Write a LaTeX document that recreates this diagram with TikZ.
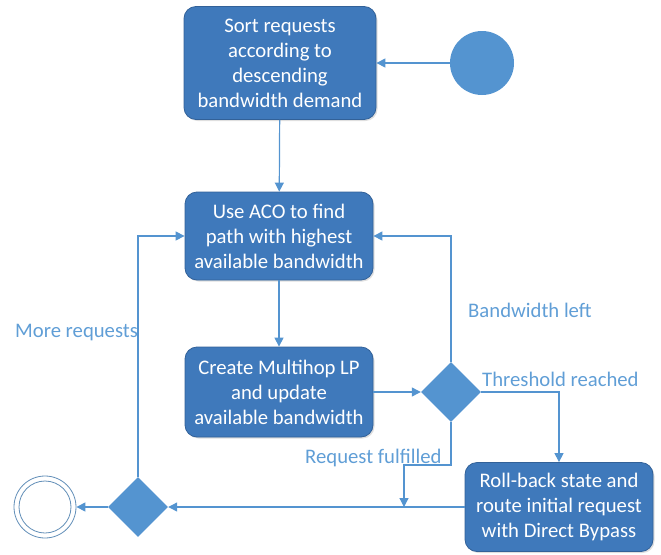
\documentclass[tikz,border=0pt]{standalone}
\usepackage{fontspec}
\setmainfont{Carlito}
\usetikzlibrary{arrows.meta,shapes.geometric,shadows}
\definecolor{boxblue}{RGB}{63,121,187}
\definecolor{boxedge}{RGB}{50,97,152}
\definecolor{lightblue}{RGB}{84,148,208}
\definecolor{labelblue}{RGB}{96,158,214}
\begin{document}
\begin{tikzpicture}[x=1pt,y=-1pt,
  every node/.style={font=\fontsize{20.7}{25}\selectfont},
  actbox/.style={draw=boxedge,line width=0.8pt,fill=boxblue,rounded corners=12pt,
    text=white,align=center,inner sep=0pt,
    drop shadow={shadow xshift=1.5pt,shadow yshift=-1.5pt,opacity=0.25}},
  decision/.style={diamond,fill=lightblue,draw=none,minimum width=60pt,minimum height=60pt,inner sep=0pt},
  flow/.style={draw=lightblue,line width=1.2pt,-{Triangle[length=9pt,width=9pt]}},
  guard/.style={text=labelblue,inner sep=0pt}
]
\useasboundingbox (0,0) rectangle (661,554);

% activity boxes
\node[actbox,minimum width=192pt,minimum height=113pt] (sort) at (280,63)
  {Sort requests\\according to\\descending\\bandwidth demand};
\node[actbox,minimum width=188pt,minimum height=88pt] (aco) at (279,236)
  {Use ACO to find\\path with highest\\available bandwidth};
\node[actbox,minimum width=188pt,minimum height=90pt] (lp) at (279,392)
  {Create Multihop LP\\and update\\available bandwidth};
\node[actbox,minimum width=188pt,minimum height=89pt] (roll) at (559,507)
  {Roll-back state and\\route initial request\\with Direct Bypass};

% initial and final nodes
\node[circle,fill=lightblue,minimum size=64pt,inner sep=0pt] (start) at (482,63) {};
\node[circle,draw=lightblue!70!gray,line width=0.8pt,fill=white,minimum size=62pt,inner sep=0pt] (stop) at (45,507) {};
\node[circle,draw=lightblue!70!gray,line width=0.8pt,minimum size=52pt,inner sep=0pt] at (stop) {};

% decisions
\node[decision] (check) at (451,392) {};
\node[decision] (merge) at (138,507) {};

% join point on the bottom line
\coordinate (join) at (404,507);

% connectors
\draw[flow] (start) -- (sort);
\draw[flow] (sort) -- (aco);
\draw[flow] (aco) -- (lp);
\draw[flow] (lp) -- (check);
\draw[flow] (check.north) |- (aco.east);
\draw[flow] (check.east) -| (roll.north);
\draw[flow] (check.south) -- (451,465) -| (join);
\draw[flow] (roll) -- (merge);
\draw[flow] (merge) -- (stop);
\draw[flow] (merge.north) |- (aco.west);

% guard labels
\node[guard,anchor=west] at (468,310) {Bandwidth left};
\node[guard,anchor=west] at (482,379) {Threshold reached};
\node[guard,anchor=west] at (305,458) {Request fulfilled};
\node[guard,anchor=west] at (15,333) {More requests};
\end{tikzpicture}
\end{document}
